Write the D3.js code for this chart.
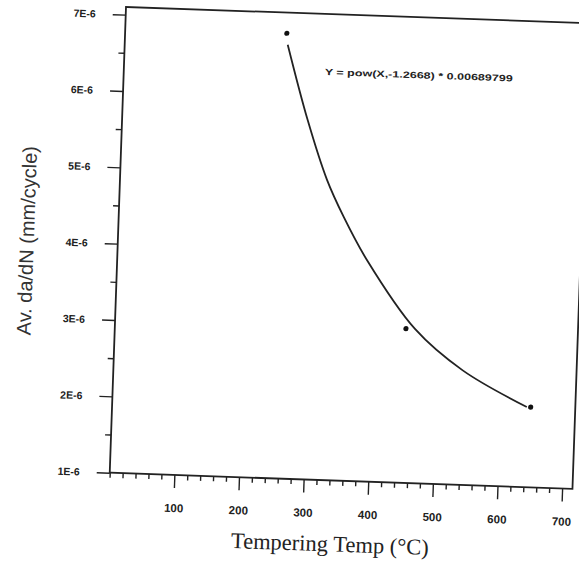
<!DOCTYPE html>
<html>
<head>
<meta charset="utf-8">
<script src="https://cdn.jsdelivr.net/npm/d3@7/dist/d3.min.js"></script>
<style>
  body { margin: 0; background: #fff; }
  .tick text { fill: #222; }
</style>
</head>
<body>
<svg id="chart" width="579" height="567"></svg>
<script>
// measured points (tempering temp in C, average da/dN in mm/cycle)
const temps = [250, 450, 647];
const crackRate = [6.83e-6, 3.02e-6, 2.05e-6];

// fitted power curve
const fitTemps = [252, 287, 320, 348, 386, 464, 540, 641];
const fitRate = [6.68e-6, 5.70e-6, 4.93e-6, 4.45e-6, 3.90e-6, 3.02e-6, 2.50e-6, 2.05e-6];

const xTicks = [100, 200, 300, 400, 500, 600, 700];
const yTicks = [1e-6, 2e-6, 3e-6, 4e-6, 5e-6, 6e-6, 7e-6];
const yTickLabels = ["1E-6", "2E-6", "3E-6", "4E-6", "5E-6", "6E-6", "7E-6"];
const fitLabel = "Y = pow(X,-1.2668) * 0.00689799";

const w = 463, h = 466;

const svg = d3.select('#chart');
// the scanned figure sits a little crooked on the page
const g = svg.append('g').attr('transform', 'translate(126,7) rotate(2)');

const x = d3.scaleLinear().domain([0, 716]).range([0, w]);
const y = d3.scaleLinear().domain([1e-6, 7.1e-6]).range([h, 0]);

// minor ticks
const xMinor = d3.range(0, 716, 20).filter(d => d % 100 !== 0 || d === 0);
const yMinor = d3.range(1.5, 7, 1).map(d => d * 1e-6);

g.append('g')
  .attr('transform', `translate(0,${h})`)
  .call(d3.axisBottom(x).tickValues(xMinor).tickSize(5).tickFormat(''))
  .call(a => a.select('.domain').remove());

g.append('g')
  .call(d3.axisLeft(y).tickValues(yMinor).tickSize(6).tickFormat(''))
  .call(a => a.select('.domain').remove());

const xAxis = g.append('g')
  .attr('transform', `translate(0,${h})`)
  .call(d3.axisBottom(x).tickValues(xTicks).tickSize(13).tickPadding(16))
  .call(a => a.select('.domain').remove());
xAxis.selectAll('text')
  .attr('font-family', 'Arial, "Liberation Sans", sans-serif')
  .attr('font-weight', 'bold')
  .attr('font-size', 11.5);

const yAxis = g.append('g')
  .call(d3.axisLeft(y).tickValues(yTicks).tickSize(13).tickPadding(17)
    .tickFormat((d, i) => yTickLabels[i]))
  .call(a => a.select('.domain').remove());
yAxis.selectAll('text')
  .attr('font-family', 'Arial, "Liberation Sans", sans-serif')
  .attr('font-weight', 'bold')
  .attr('font-size', 10.5);

g.selectAll('.tick line').attr('stroke', '#222').attr('stroke-width', 1.4);

// frame
g.append('rect')
  .attr('width', w).attr('height', h)
  .attr('fill', 'none').attr('stroke', '#222').attr('stroke-width', 1.8);

// fitted curve
const line = d3.line()
  .x((d, i) => x(fitTemps[i]))
  .y(d => y(d))
  .curve(d3.curveCatmullRom);

g.append('path')
  .datum(fitRate)
  .attr('d', line)
  .attr('fill', 'none')
  .attr('stroke', '#222')
  .attr('stroke-width', 1.8);

g.selectAll('.pt')
  .data(crackRate)
  .enter().append('circle')
  .attr('class', 'pt')
  .attr('cx', (d, i) => x(temps[i]))
  .attr('cy', d => y(d))
  .attr('r', 2.6)
  .attr('fill', '#111');

g.append('text')
  .attr('x', 201).attr('y', 61)
  .attr('textLength', 188)
  .attr('lengthAdjust', 'spacingAndGlyphs')
  .attr('font-family', 'Arial, "Liberation Sans", sans-serif')
  .attr('font-weight', 'bold')
  .attr('font-size', 9)
  .attr('fill', '#222')
  .text(fitLabel);

// axis titles
g.append('text')
  .attr('x', w / 2 - 9).attr('y', h + 71)
  .attr('text-anchor', 'middle')
  .attr('font-family', '"Liberation Serif", "Times New Roman", serif')
  .attr('font-size', 22.5)
  .attr('fill', '#222')
  .text('Tempering Temp (°C)');

g.append('text')
  .attr('transform', `translate(-84,${h / 2 + 4}) rotate(-90)`)
  .attr('text-anchor', 'middle')
  .attr('font-family', 'Arial, "Liberation Sans", sans-serif')
  .attr('font-size', 20)
  .attr('fill', '#333')
  .text('Av. da/dN (mm/cycle)');
</script>
</body>
</html>
